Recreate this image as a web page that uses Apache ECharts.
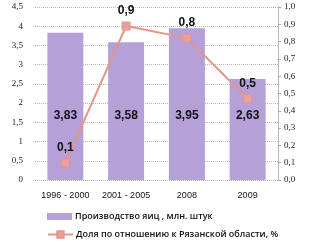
<!DOCTYPE html>
<html><head><meta charset="utf-8">
<script src="https://cdn.jsdelivr.net/npm/echarts@6/dist/echarts.min.js"></script>
<style>html,body{margin:0;padding:0;background:#fff}#c{width:309px;height:244px}</style>
</head><body><div id="c"></div>
<script>
const categories = ['1996 - 2000', '2001 - 2005', '2008', '2009'];
const eggProduction = [3.83, 3.58, 3.95, 2.63];
const shareRyazan = [0.1, 0.89, 0.82, 0.47];
const barName = 'Производство яиц , млн. штук';
const lineName = 'Доля по отношению к Рязанской области, %';

const comma = v => String(v).replace('.', ',');
const legendText = {fontFamily: 'Open Sans', fontSize: 9, fontWeight: 600, color: '#111', padding: [0,0,0,-2]};
const chart = echarts.init(document.getElementById('c'));
chart.setOption({
  animation: false,
  grid: {left: 35, right: 31, top: 7, bottom: 64},
  legend: [
    {left: 42, top: 207, itemWidth: 25, itemHeight: 7, textStyle: legendText, data: [{name: barName, icon: 'rect'}]},
    {left: 42, top: 225, itemWidth: 25, itemHeight: 8, textStyle: legendText, data: [{name: lineName}]}
  ],
  xAxis: {
    type: 'category', data: categories,
    axisLine: {show: false}, axisTick: {show: false},
    axisLabel: {interval: 0, fontFamily: 'Liberation Sans', fontSize: 9, color: '#111', margin: 11}
  },
  yAxis: [{
    type: 'value', min: 0, max: 4.5, interval: 0.5,
    axisLine: {show: false}, axisTick: {show: false},
    axisLabel: {fontFamily: 'Liberation Serif', fontSize: 9, color: '#222', margin: 12, formatter: v => comma(v)},
    splitLine: {lineStyle: {color: '#b8b8b8', type: 'dotted', width: 1}}
  }, {
    type: 'value', min: 0, max: 1, interval: 0.1,
    axisLine: {show: true, lineStyle: {color: '#aaa', type: 'dotted'}},
    axisTick: {show: true, length: 3, lineStyle: {color: '#aaa'}},
    axisLabel: {fontFamily: 'Liberation Serif', fontSize: 9, color: '#222', margin: 6, formatter: v => comma(v.toFixed(1))},
    splitLine: {show: false}
  }],
  series: [{
    name: barName, type: 'bar', data: eggProduction, barWidth: 36,
    itemStyle: {color: '#b5a0d8'},
    label: {show: true, position: 'insideBottom', distance: 58, fontFamily: 'Liberation Sans', fontWeight: 'bold', fontSize: 12, color: '#111', formatter: p => comma(p.value)}
  }, {
    name: lineName, type: 'line', yAxisIndex: 1, data: shareRyazan,
    symbol: 'rect', symbolSize: 8,
    lineStyle: {color: '#e5948c', width: 2},
    itemStyle: {color: '#eca09c', borderColor: '#e5948c', borderWidth: 1},
    label: {show: true, position: 'top', distance: 5, fontFamily: 'Liberation Sans', fontWeight: 'bold', fontSize: 12, color: '#111', formatter: p => comma(p.value.toFixed(1))},
    labelLayout: {hideOverlap: false}
  }]
});
</script></body></html>
